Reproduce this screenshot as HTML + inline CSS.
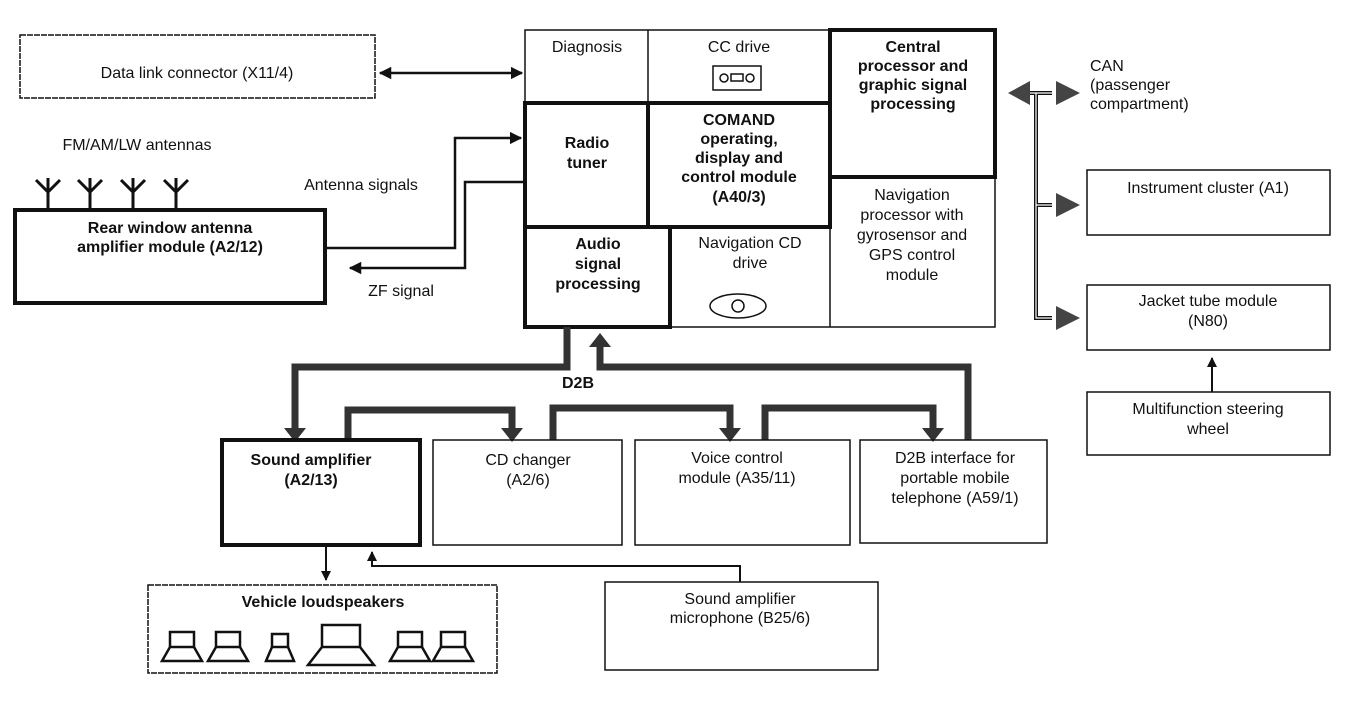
<!DOCTYPE html>
<html><head><meta charset="utf-8"><style>
html,body{margin:0;padding:0;background:#fff;}
svg{display:block;}
text{font-family:"Liberation Sans",sans-serif;font-size:16px;fill:#111;text-anchor:middle;}
.b{font-weight:bold;}
</style></head><body>
<svg width="1360" height="704" viewBox="0 0 1360 704" xmlns="http://www.w3.org/2000/svg">
<defs>
<marker id="a" viewBox="0 0 10 10" refX="9" refY="5" markerWidth="5" markerHeight="5" orient="auto-start-reverse"><path d="M0,0L10,5L0,10z" fill="#111"/></marker>
</defs>
<g fill="none" stroke="#111">
<rect x="20" y="35" width="355" height="63" stroke-width="1.5" stroke-dasharray="6 1"/>
<line x1="380" y1="73" x2="522" y2="73" stroke-width="2.5" marker-start="url(#a)" marker-end="url(#a)"/>
<rect x="525" y="30" width="470" height="297" stroke-width="1.5"/>
<line x1="648" y1="30" x2="648" y2="103" stroke-width="1.5"/>
<rect x="830" y="30" width="165" height="147" stroke-width="4"/>
<rect x="525" y="103" width="123" height="124" stroke-width="4"/>
<rect x="648" y="103" width="182" height="124" stroke-width="4"/>
<rect x="525" y="227" width="145" height="100" stroke-width="4"/>
<line x1="830" y1="177" x2="830" y2="327" stroke-width="1.5"/>
<rect x="713" y="66" width="48" height="24" stroke-width="1.5"/>
<circle cx="724" cy="78" r="4" stroke-width="1.5"/><circle cx="750" cy="78" r="4" stroke-width="1.5"/>
<rect x="731" y="74" width="12" height="7" stroke-width="1.5"/>
<ellipse cx="738" cy="306" rx="28" ry="12" stroke-width="1.5"/>
<circle cx="738" cy="306" r="6" stroke-width="1.5"/>
<rect x="15" y="210" width="310" height="93" stroke-width="4"/>
<g stroke-width="3">
<path d="M48,210V178M36,180L48,192L60,180"/>
<path d="M90,210V178M78,180L90,192L102,180"/>
<path d="M133,210V178M121,180L133,192L145,180"/>
<path d="M176,210V178M164,180L176,192L188,180"/>
</g>
<path d="M325,248H455V138H521" stroke-width="2.5" marker-end="url(#a)"/>
<path d="M525,182H465V268H350" stroke-width="2.5" marker-end="url(#a)"/>
<path d="M1008,93L1030,81V105z" fill="#444" stroke="none"/>
<path d="M1030,93H1036V318H1052M1036,205H1052M1036,93H1052" stroke-width="4" stroke="#111"/>
<path d="M1030,93H1036V318H1052M1036,205H1052M1036,93H1052" stroke-width="1.2" stroke="#fff"/>
<path d="M1056,81L1080,93L1056,105z M1056,193L1080,205L1056,217z M1056,306L1080,318L1056,330z" fill="#444" stroke="none"/>
<rect x="1087" y="170" width="243" height="65" stroke-width="1.5"/>
<rect x="1087" y="285" width="243" height="65" stroke-width="1.5"/>
<rect x="1087" y="392" width="243" height="63" stroke-width="1.5"/>
<line x1="1212" y1="392" x2="1212" y2="358" stroke-width="2" marker-end="url(#a)"/>
<g stroke="#333" stroke-width="7">
<path d="M567,327V367H295V430"/>
<path d="M600,345V367H968V440"/>
<path d="M348,440V410H512V430"/>
<path d="M553,440V408H730V430"/>
<path d="M765,440V408H933V430"/>
</g>
<g fill="#333" stroke="none">
<path d="M284,428H306L295,442z"/>
<path d="M501,428H523L512,442z"/>
<path d="M719,428H741L730,442z"/>
<path d="M922,428H944L933,442z"/>
<path d="M589,347H611L600,333z"/>
</g>
<rect x="222" y="440" width="198" height="105" stroke-width="4"/>
<rect x="433" y="440" width="189" height="105" stroke-width="1.5"/>
<rect x="635" y="440" width="215" height="105" stroke-width="1.5"/>
<rect x="860" y="440" width="187" height="103" stroke-width="1.5"/>
<line x1="326" y1="545" x2="326" y2="580" stroke-width="2" marker-end="url(#a)"/>
<path d="M740,582V566H372V552" stroke-width="2" marker-end="url(#a)"/>
<rect x="148" y="585" width="349" height="88" stroke-width="1.5" stroke-dasharray="6 1"/>
<rect x="605" y="582" width="273" height="88" stroke-width="1.5"/>
<g stroke-width="2.5">
<rect x="170" y="632" width="24" height="15"/><path d="M170,647L162,661H202L194,647"/>
<rect x="216" y="632" width="24" height="15"/><path d="M216,647L208,661H248L240,647"/>
<rect x="272" y="634" width="16" height="13"/><path d="M272,647L266,661H294L288,647"/>
<rect x="322" y="625" width="38" height="22"/><path d="M322,647L308,665H374L360,647"/>
<rect x="398" y="632" width="24" height="15"/><path d="M398,647L390,661H430L422,647"/>
<rect x="441" y="632" width="24" height="15"/><path d="M441,647L433,661H473L465,647"/>
</g>
</g>
<text x="197" y="78">Data link connector (X11/4)</text>
<text x="137" y="150">FM/AM/LW antennas</text>
<text x="170" y="233" class="b">Rear window antenna</text>
<text x="170" y="252" class="b">amplifier module (A2/12)</text>
<text x="361" y="190">Antenna signals</text>
<text x="401" y="296">ZF signal</text>
<text x="587" y="52">Diagnosis</text>
<text x="739" y="52">CC drive</text>
<text x="913" y="52" class="b">Central</text>
<text x="913" y="71" class="b">processor and</text>
<text x="913" y="90" class="b">graphic signal</text>
<text x="913" y="109" class="b">processing</text>
<text x="587" y="148" class="b">Radio</text>
<text x="587" y="168" class="b">tuner</text>
<text x="739" y="125" class="b">COMAND</text>
<text x="739" y="144" class="b">operating,</text>
<text x="739" y="163" class="b">display and</text>
<text x="739" y="182" class="b">control module</text>
<text x="739" y="202" class="b">(A40/3)</text>
<text x="598" y="249" class="b">Audio</text>
<text x="598" y="269" class="b">signal</text>
<text x="598" y="289" class="b">processing</text>
<text x="750" y="248">Navigation CD</text>
<text x="750" y="268">drive</text>
<text x="912" y="200">Navigation</text>
<text x="912" y="220">processor with</text>
<text x="912" y="240">gyrosensor and</text>
<text x="912" y="260">GPS control</text>
<text x="912" y="280">module</text>
<text x="1090" y="71" style="text-anchor:start">CAN</text>
<text x="1090" y="90" style="text-anchor:start">(passenger</text>
<text x="1090" y="109" style="text-anchor:start">compartment)</text>
<text x="1208" y="193">Instrument cluster (A1)</text>
<text x="1208" y="306">Jacket tube module</text>
<text x="1208" y="326">(N80)</text>
<text x="1208" y="414">Multifunction steering</text>
<text x="1208" y="434">wheel</text>
<text x="578" y="388" class="b">D2B</text>
<text x="311" y="465" class="b">Sound amplifier</text>
<text x="311" y="485" class="b">(A2/13)</text>
<text x="528" y="465">CD changer</text>
<text x="528" y="485">(A2/6)</text>
<text x="737" y="463">Voice control</text>
<text x="737" y="483">module (A35/11)</text>
<text x="955" y="463">D2B interface for</text>
<text x="955" y="483">portable mobile</text>
<text x="955" y="503">telephone (A59/1)</text>
<text x="323" y="607" class="b">Vehicle loudspeakers</text>
<text x="740" y="604">Sound amplifier</text>
<text x="740" y="623">microphone (B25/6)</text>
</svg>
</body></html>
